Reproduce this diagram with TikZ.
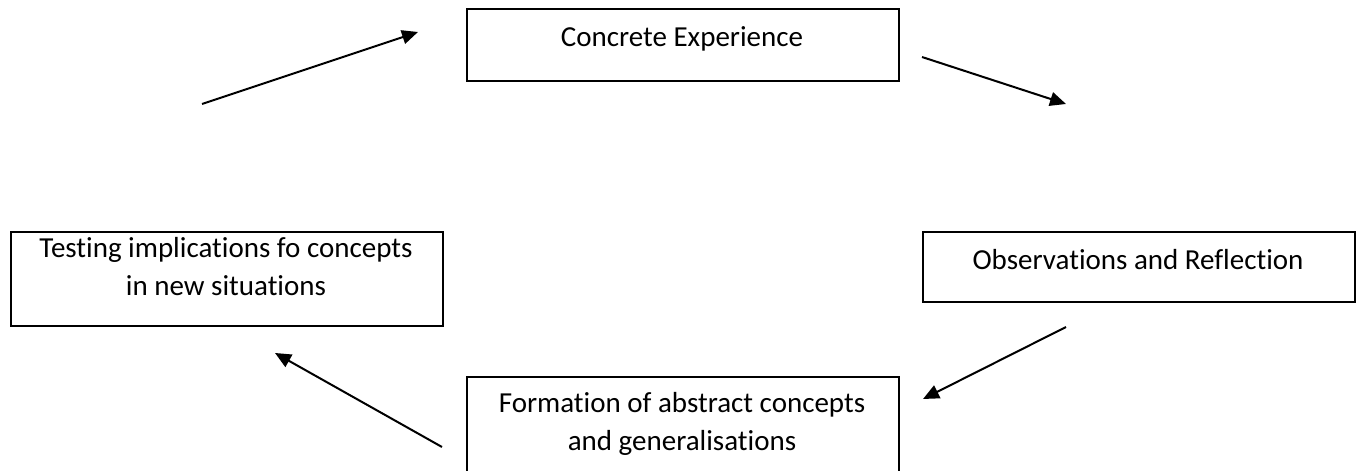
\documentclass[tikz,border=0pt]{standalone}
\usepackage{fontspec}
\setmainfont{Carlito}[Ligatures=NoCommon]
\usetikzlibrary{arrows.meta}
\begin{document}
\begin{tikzpicture}[x=1pt,y=1pt,
  stagebox/.style={draw=black, line width=1.6pt, rectangle, inner sep=0pt,
    minimum width=432pt, anchor=north west},
  stagetext/.style={font=\fontsize{29}{38}\selectfont, align=center, anchor=base, inner sep=0pt},
  flow/.style={line width=2pt, -{Triangle[length=16pt,width=14pt]}}
]
\useasboundingbox (0,0) rectangle (1357,471);
\clip (0,0) rectangle (1357,471);

% the four stages of the cycle (text placed by the baseline of its last line)
\node[stagebox, minimum height=72pt] (ce) at (466,463) {};
\node[stagetext] (cet) at (682,424) {Concrete Experience};

\node[stagebox, minimum height=70pt] (obs) at (922,240) {};
\node[stagetext] (obst) at (1138,201) {Observations and Reflection};

\node[stagebox, minimum height=94pt] (test) at (10,240) {};
\node[stagetext] (testt) at (226,175) {Testing implications fo concepts\\in new situations};

\node[stagebox, minimum height=110pt] (form) at (466,95) {};
\node[stagetext] (formt) at (682,20) {Formation of abstract concepts\\and generalisations};

% free-standing arrows between the stages
\coordinate (a1s) at (202,367);  \coordinate (a1e) at (418,439);
\coordinate (a2s) at (922,414);  \coordinate (a2e) at (1066,367);
\coordinate (a3s) at (1066,144); \coordinate (a3e) at (923,72);
\coordinate (a4s) at (442,24);   \coordinate (a4e) at (275,118);

\draw[flow] (a1s) -- (a1e);
\draw[flow] (a2s) -- (a2e);
\draw[flow] (a3s) -- (a3e);
\draw[flow] (a4s) -- (a4e);
\end{tikzpicture}
\end{document}
